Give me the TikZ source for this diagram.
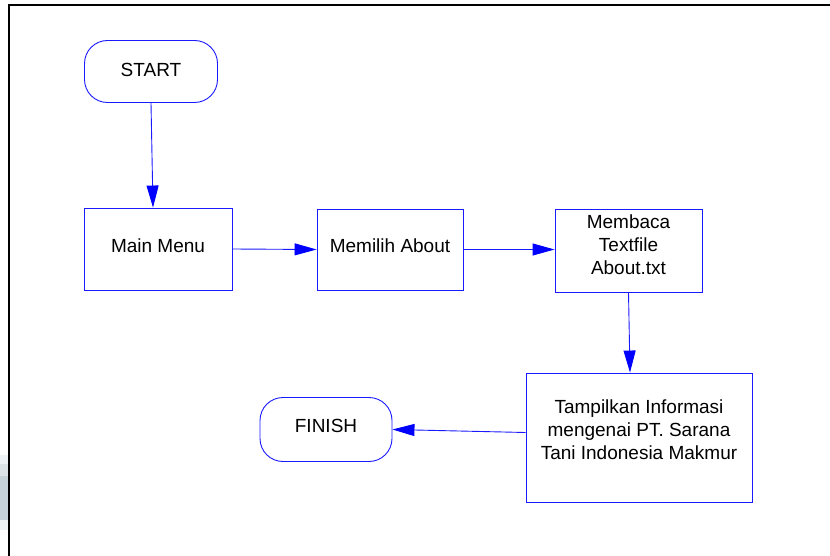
\documentclass[tikz,border=0pt]{standalone}
\usepackage{fontspec}
\setmainfont{Liberation Sans}
\usetikzlibrary{arrows.meta}

\definecolor{flowblue}{HTML}{1A1AFF}
\definecolor{panelA}{HTML}{EEF3F5}
\definecolor{panelB}{HTML}{DCE4E7}
\definecolor{panelC}{HTML}{C6D3D9}

\tikzset{
  flowbox/.style={draw=flowblue, line width=0.9pt, fill=white, align=center,
    font=\fontsize{19}{23}\selectfont, inner sep=0pt},
  terminal/.style={flowbox, rounded corners=23pt},
  process/.style={flowbox},
  flowarrow/.style={draw=flowblue, line width=0.9pt,
    -{Triangle[length=22pt, width=12pt, color=blue, fill=blue]}},
  framebar/.style={draw=black, line width=2pt}
}

\begin{document}
\begin{tikzpicture}[x=1pt, y=-1pt]
  \useasboundingbox (0,0) rectangle (830,556);
  \fill[white] (0,0) rectangle (830,556);

  % grey strip at the left edge
  \fill[panelA] (0,455) rectangle (8,530);
  \fill[panelB] (0,464) rectangle (8,476);
  \fill[panelC] (0,476) rectangle (8,520);

  % outer frame
  \draw[framebar] (9,556) -- (9,5) -- (830,5);

  % flowchart steps
  \node[terminal, minimum width=133pt, minimum height=62pt, text depth=4pt] (start) at (151,71.5) {START};
  \node[process, minimum width=148pt, minimum height=82pt, text depth=6pt] (main) at (158,249) {Main Menu};
  \node[process, minimum width=146pt, minimum height=81pt, text depth=7pt] (about) at (390,249.5) {Memilih About};
  \node[process, minimum width=147pt, minimum height=83pt, text depth=12pt] (read) at (628.5,250.5) {Membaca\\Textfile\\About.txt};
  \node[process, minimum width=226pt, minimum height=129pt, text depth=16pt] (show) at (639,437.5)
    {Tampilkan Informasi\\mengenai PT. Sarana\\Tani Indonesia Makmur};
  \node[terminal, minimum width=132pt, minimum height=64pt, text depth=7pt] (finish) at (326,429.5) {FINISH};

  % connectors
  \draw[flowarrow] (start.south) -- ([xshift=-5pt]main.north);
  \draw[flowarrow] (main.east) -- (about.west);
  \draw[flowarrow] (about.east) -- (about.east -| read.west);
  \draw[flowarrow] (read.south) -- ([xshift=-9pt]show.north);
  \draw[flowarrow] ([yshift=5pt]show.west) -- (finish.east);
\end{tikzpicture}
\end{document}
